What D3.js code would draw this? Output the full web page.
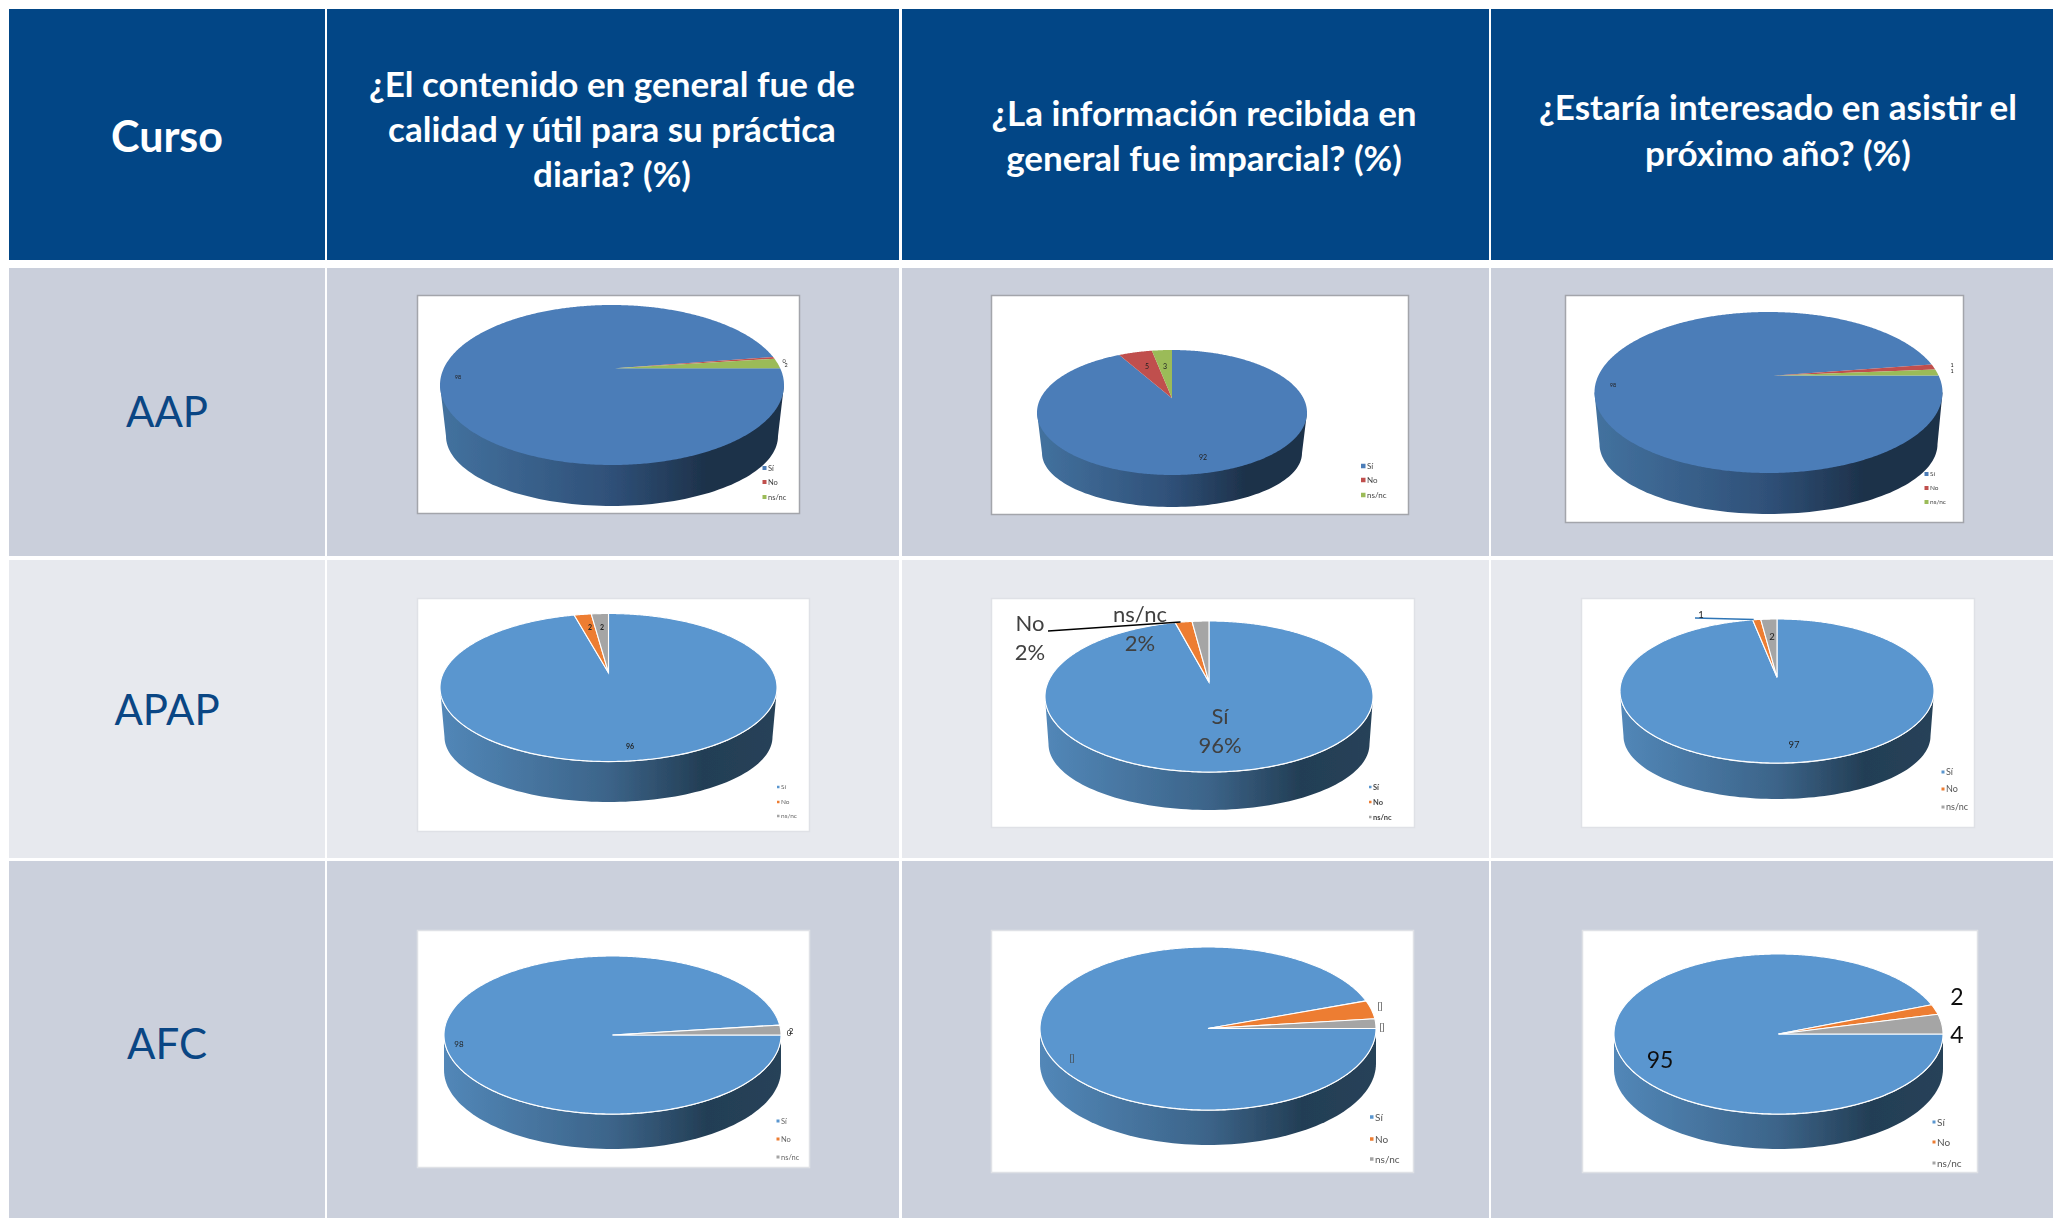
<!DOCTYPE html>
<html lang="es">
<head>
    <meta charset="UTF-8">
    <title>Evaluación de cursos</title>
    <script src="https://d3js.org/d3.v7.min.js"></script>
    <style>
        body { margin: 0; background: #fff; }
        svg { display: block; }
        text { font-family: Lato, "Open Sans", sans-serif; }
        .head { fill: #fff; font-weight: 700; text-anchor: middle; }
        .course { fill: #0a4684; font-size: 42px; text-anchor: middle; }
    </style>
</head>
<body>
    <div id="chart"></div>

    <script>
        // Values
        const courses = ['AAP', 'APAP', 'AFC'];
        const answers = ['Sí', 'No', 'ns/nc'];
        const headContenido = ['¿El contenido en general fue de', 'calidad y útil para su práctica', 'diaria? (%)'];
        const headInformacion = ['¿La información recibida en', 'general fue imparcial? (%)'];
        const headAsistir = ['¿Estaría interesado en asistir el', 'próximo año? (%)'];

        const aapContenido = [97.6, 0.4, 2];
        const aapInformacion = [92, 5, 3];
        const aapAsistir = [97.6, 1.1, 1.3];
        const apapContenido = [96, 2, 2];
        const apapInformacion = [96, 2, 2];
        const apapAsistir = [97, 1, 2];
        const afcContenido = [98, 0, 2];
        const afcInformacion = [94.5, 3.6, 1.9];
        const afcAsistir = [95, 2, 4];

        const width = 2053, height = 1218;

        // table grid
        const colEdges = [[9, 325], [327, 899], [902, 1489], [1491, 2053]];
        const rowEdges = [[268, 556], [560, 858], [861, 1218]];
        const rowFill = ['#cacfdb', '#e7e9ee', '#cbd0dc'];
        const headTop = 9, headBottom = 260;

        // the two Office palettes seen in the slides
        const oldTheme = {
            slices: ['#4c7db8', '#c0504d', '#9bbb59'],
            side: ['#43729f', '#2f5078', '#1d3149', '#1d3149'],
            rim: 'none', frame: '#a3a5ab'
        };
        const newTheme = {
            slices: ['#5a96cf', '#ed7d31', '#a5a5a5'],
            side: ['#5287b8', '#3c6489', '#233e55', '#274259'],
            rim: '#fff', frame: '#dfe1e6'
        };

        // k is the perspective of the 3D pie: how far the hub sits above the ellipse centre
        const charts = [
            {
                values: aapContenido, theme: oldTheme, start: 90, hubShift: 3,
                box: [417, 295, 799, 513], top: [612, 385, 172, 80], k: 0.21, base: [612, 436, 166, 70],
                legend: { x: 768, ys: [468, 482, 497], size: 7.5, marker: 4, color: '#444' },
                labels: { size: 5.5, color: '#222', at: [[458, 377], [784, 361], [786, 365]] }
            },
            {
                values: aapInformacion, theme: oldTheme, start: 0,
                box: [991, 295, 1408, 514], top: [1172, 412.5, 135, 62.5], k: 0.23, base: [1172, 453, 130, 54],
                legend: { x: 1367, ys: [466, 480, 495], size: 8, marker: 4.5, color: '#444' },
                labels: { size: 7, color: '#222', at: [[1203, 458], [1147, 367], [1165, 367]] }
            },
            {
                values: aapAsistir, theme: oldTheme, start: 90, hubShift: 5,
                box: [1565, 295, 1963, 522], top: [1768.5, 392.5, 174, 80.5], k: 0.21, base: [1768.5, 444, 169, 70],
                legend: { x: 1930, ys: [474, 488, 502], size: 6.5, marker: 4, color: '#444' },
                labels: { size: 5.5, color: '#222', at: [[1613, 385], [1952, 365], [1952, 371]] }
            },
            {
                values: apapContenido, theme: newTheme, start: 0,
                box: [417, 598, 809, 831], top: [608.5, 687.5, 168.5, 74], k: 0.2, base: [608.5, 737, 164, 65],
                legend: { x: 781, ys: [787, 802, 816], size: 6.5, marker: 2.5, color: '#666' },
                labels: { size: 7, color: '#222', weight: 700, at: [[630, 747], [590, 628], [602, 628]] }
            },
            {
                values: apapInformacion, theme: newTheme, start: 0,
                box: [991, 598, 1414, 827], top: [1209, 696.5, 164, 75.5], k: 0.19, base: [1209, 744, 160.5, 66],
                legend: { x: 1373, ys: [787, 802, 817], size: 7.5, marker: 2.5, color: '#444', weight: 700 },
                labels: { size: 22, color: '#404040', percent: true, at: [[1220, 716], [1030, 623], [1140, 614]] },
                leader: { color: '#000', slice: 1, end: [1048, 631] }
            },
            {
                values: apapAsistir, theme: newTheme, start: 0,
                box: [1581, 598, 1974, 827], top: [1777, 691, 157, 72], k: 0.19, base: [1777, 736, 153.5, 63],
                legend: { x: 1946, ys: [772, 789, 807], size: 9, marker: 3, color: '#555' },
                labels: { size: 9.5, color: '#222', at: [[1794, 745], [1701, 615], [1772, 637]] },
                leader: { color: '#2e75b6', slice: 1, end: [1695, 618] }
            },
            {
                values: afcContenido, theme: newTheme, start: 90,
                box: [417, 930, 809, 1167], top: [612.5, 1035, 168.5, 79], k: 0, base: [612.5, 1070, 168.5, 79],
                legend: { x: 781, ys: [1121, 1139, 1157], size: 7.5, marker: 3, color: '#666' },
                labels: { size: 8, color: '#222', at: [[459, 1044], [789, 1033], [791, 1031]] }
            },
            {
                values: afcInformacion, theme: newTheme, start: 90,
                box: [991, 930, 1413, 1172], top: [1208, 1028.5, 168, 81.5], k: 0, base: [1208, 1063.5, 168, 81.5],
                legend: { x: 1375, ys: [1117, 1139, 1159], size: 10, marker: 3.5, color: '#555' },
                labels: { size: 9, color: '#444', placeholder: '[]', at: [[1072, 1058], [1380, 1006], [1382, 1027]] }
            },
            {
                values: afcAsistir, theme: newTheme, start: 90,
                box: [1582, 930, 1977, 1172], top: [1778.5, 1034, 164.5, 80], k: 0, base: [1778.5, 1069, 164.5, 80],
                legend: { x: 1937, ys: [1122, 1142, 1163], size: 10, marker: 3, color: '#555' },
                labels: { size: 23, color: '#111', at: [[1660, 1060], [1957, 997], [1957, 1035]] }
            }
        ];

        const svg = d3.select('#chart').append('svg')
            .attr('width', width)
            .attr('height', height);

        // the pasted slide charts are soft in the original
        svg.append('defs').append('filter')
            .attr('id', 'soft')
            .append('feGaussianBlur')
            .attr('stdDeviation', 0.45);

        drawTable();
        charts.forEach((c, i) => drawPie(c, i));

        function drawTable() {
            const head = svg.append('g');
            head.selectAll('rect')
                .data(colEdges)
                .enter().append('rect')
                .attr('x', d => d[0])
                .attr('y', headTop)
                .attr('width', d => d[1] - d[0])
                .attr('height', headBottom - headTop)
                .attr('fill', '#024686');

            rowEdges.forEach((r, i) => {
                svg.append('g').selectAll('rect')
                    .data(colEdges)
                    .enter().append('rect')
                    .attr('x', d => d[0])
                    .attr('y', r[0])
                    .attr('width', d => d[1] - d[0])
                    .attr('height', r[1] - r[0])
                    .attr('fill', rowFill[i]);
            });

            svg.append('text').attr('class', 'head')
                .attr('x', 167).attr('y', 137).attr('dy', '.35em')
                .style('font-size', '43px')
                .text('Curso');

            headLines(headContenido, 612, [85, 130, 175]);
            headLines(headInformacion, 1204, [114, 159]);
            headLines(headAsistir, 1778, [108, 154]);

            svg.selectAll('.course')
                .data(courses)
                .enter().append('text')
                .attr('class', 'course')
                .attr('x', 167)
                .attr('y', (d, i) => [412, 710, 1044][i])
                .attr('dy', '.35em')
                .text(d => d);
        }

        function headLines(lines, x, ys) {
            svg.append('g').selectAll('text')
                .data(lines)
                .enter().append('text')
                .attr('class', 'head')
                .attr('x', x)
                .attr('y', (d, i) => ys[i])
                .attr('dy', '.35em')
                .style('font-size', '35px')
                .text(d => d);
        }

        function drawPie(c, idx) {
            const g = svg.append('g');
            const [bx0, by0, bx1, by1] = c.box;
            const [cx, cy, rx, ry] = c.top;
            const [bcx, bcy, brx, bry] = c.base;

            g.append('rect')
                .attr('x', bx0 + 0.5).attr('y', by0 + 0.5)
                .attr('width', bx1 - bx0).attr('height', by1 - by0)
                .attr('fill', '#fff')
                .attr('stroke', c.theme.frame)
                .attr('stroke-width', 1.5);

            const inner = g.append('g').attr('filter', 'url(#soft)');

            // perspective projection of a unit circle onto the top ellipse
            const a = rx * Math.sqrt(1 - c.k * c.k);
            const b = ry * (1 - c.k * c.k);
            const hubY = cy - ry * c.k;
            function project(angle, r) {
                const u = r * Math.sin(angle), v = r * Math.cos(angle);
                const w = 1 + c.k * v;
                return [cx + a * u / w, hubY - b * v / w];
            }

            const line = d3.line();
            const gradId = 'side' + idx;
            const grad = svg.append('defs').append('linearGradient').attr('id', gradId);
            grad.selectAll('stop')
                .data(c.theme.side)
                .enter().append('stop')
                .attr('offset', (d, i) => [0, 0.5, 0.78, 1][i])
                .attr('stop-color', d => d);

            // side wall: outline from the top ellipse down around the base ellipse
            const lower = d3.range(Math.PI, -0.001, -Math.PI / 90);
            const wall = [[cx - rx, cy]]
                .concat(lower.map(t => [bcx + brx * Math.cos(t), bcy + bry * Math.sin(t)]))
                .concat([[cx + rx, cy]]);
            inner.append('path')
                .attr('d', line(wall) + 'Z')
                .attr('fill', `url(#${gradId})`);

            const pie = d3.pie().sort(null)
                .startAngle(c.start * Math.PI / 180)
                .endAngle(c.start * Math.PI / 180 + 2 * Math.PI);
            const arcs = pie(c.values);
            const color = d3.scaleOrdinal(answers, c.theme.slices);

            if (c.theme.rim !== 'none') {
                // white edge round the top face
                inner.append('ellipse')
                    .attr('cx', cx).attr('cy', cy)
                    .attr('rx', rx + 0.5).attr('ry', ry + 0.8)
                    .attr('fill', c.theme.rim);
            }

            // the big slice goes first and the hub of the slivers is nudged like in the slide
            inner.append('g').selectAll('path')
                .data(arcs)
                .enter().append('path')
                .attr('d', d => {
                    const n = Math.max(2, Math.ceil((d.endAngle - d.startAngle) / 0.01));
                    const step = (d.endAngle - d.startAngle) / n;
                    const rimPts = d3.range(n + 1).map(i => project(d.startAngle + i * step, 1));
                    return line([[cx + (c.hubShift || 0), hubY]].concat(rimPts)) + 'Z';
                })
                .attr('fill', (d, i) => color(answers[i]))
                .attr('stroke', c.theme.rim === 'none' ? 'none' : c.theme.rim)
                .attr('stroke-width', d => d.value > 0 ? 1.1 : 0);

            if (c.leader) {
                const s = arcs[c.leader.slice];
                const p = project((s.startAngle + s.endAngle) / 2, 1);
                inner.append('path')
                    .attr('d', line([c.leader.end, [p[0] - 3, p[1]]]))
                    .attr('fill', 'none')
                    .attr('stroke', c.leader.color)
                    .attr('stroke-width', 1.5);
            }

            // data labels, percent charts carry the category above the share
            const labelG = inner.append('g');
            const total = d3.sum(c.values);
            c.values.forEach((v, i) => {
                const [lx, ly] = c.labels.at[i];
                const lines = c.labels.percent
                    ? [answers[i], Math.round(v / total * 100) + '%']
                    : [c.labels.placeholder || String(Math.round(v))];
                labelG.append('g').selectAll('text')
                    .data(lines)
                    .enter().append('text')
                    .attr('x', lx)
                    .attr('y', (d, j) => ly + j * c.labels.size * 1.33)
                    .attr('dy', '.35em')
                    .attr('text-anchor', 'middle')
                    .attr('fill', c.labels.color)
                    .attr('font-weight', c.labels.weight || 400)
                    .attr('font-size', c.labels.size)
                    .text(d => d);
            });

            const leg = inner.append('g').selectAll('g')
                .data(answers)
                .enter().append('g')
                .attr('transform', (d, i) => `translate(${c.legend.x},${c.legend.ys[i]})`);
            leg.append('rect')
                .attr('x', -c.legend.marker - 1.5)
                .attr('y', -c.legend.marker / 2)
                .attr('width', c.legend.marker)
                .attr('height', c.legend.marker)
                .attr('fill', d => color(d));
            leg.append('text')
                .attr('dy', '.35em')
                .attr('fill', c.legend.color)
                .attr('font-size', c.legend.size)
                .attr('font-weight', c.legend.weight || 400)
                .text(d => d);
        }
    </script>
</body>
</html>
